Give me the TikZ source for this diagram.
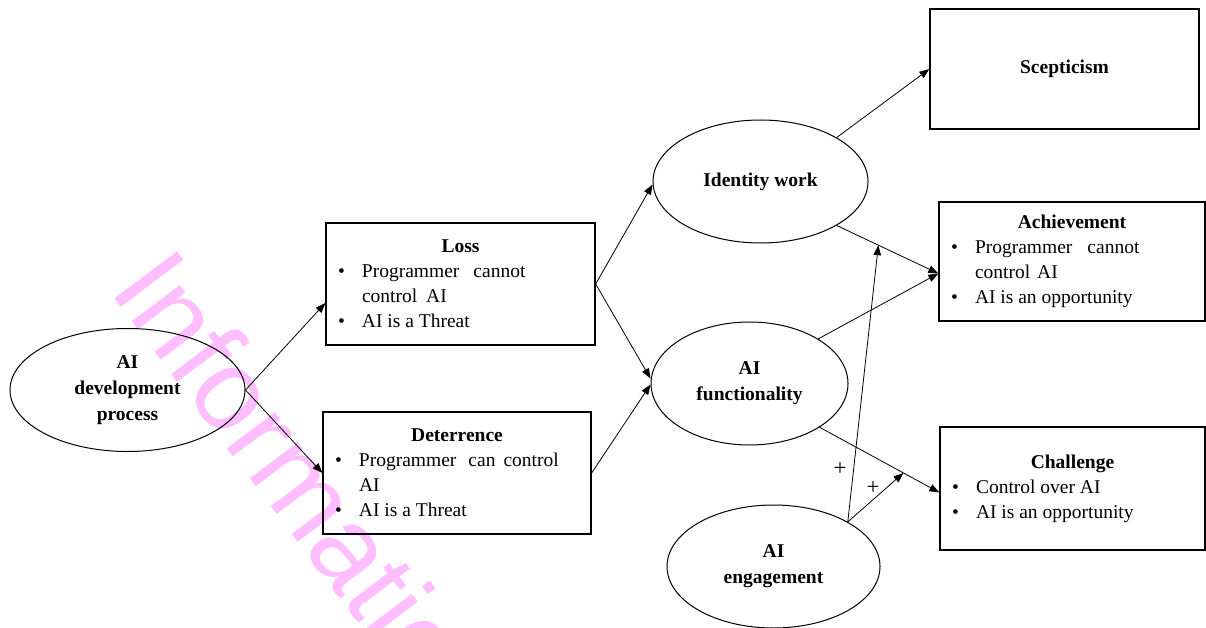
\documentclass[tikz,border=0pt]{standalone}
\usepackage{fontspec}
\setmainfont{Liberation Serif}
\setsansfont{Liberation Sans}
\usetikzlibrary{arrows.meta,shapes.geometric,calc}
\definecolor{wmpink}{RGB}{255,190,255}
\newcommand{\boxtitle}[1]{\makebox[\linewidth][c]{\bfseries #1}}
\newcommand{\bitem}{\hspace*{12pt}\makebox[24pt][l]{\textbullet}}
\newcommand{\bcont}{\hspace*{36pt}}
\begin{document}
\begin{tikzpicture}[x=1pt,y=-1pt,
  every node/.style={font=\fontsize{19.5}{25}\selectfont},
  oval/.style={ellipse, draw, line width=1pt, inner sep=0pt, align=center,
    font=\fontsize{19.5}{26}\selectfont\bfseries},
  rbox/.style={draw, line width=1.3pt, inner sep=0pt},
  conn/.style={draw, line width=0.8pt, -{Triangle[length=10pt,width=7.5pt]}},
  wmark/.style={text=wmpink, inner sep=0pt, anchor=base west, rotate=-53,
    font=\sffamily\fontsize{114}{114}\selectfont},
  plus/.style={inner sep=0pt, font=\fontsize{23}{23}\selectfont},
]
\useasboundingbox (0,0) rectangle (1206,628);

% watermark
\node[wmark] (wm) at (108,290) {Information};

% ellipses
\node[oval, minimum width=235pt, minimum height=123pt] (dev) at (127.5,390) {AI\\development\\process};
\node[oval, minimum width=215pt, minimum height=123pt] (idw) at (760.5,181.5) {Identity work};
\node[oval, minimum width=197pt, minimum height=123pt] (func) at (749.5,383.5) {AI\\functionality};
\node[oval, minimum width=213pt, minimum height=123pt] (eng) at (773.5,566.5) {AI\\engagement};

% boxes
\node[rbox, minimum width=269pt, minimum height=122pt] (loss) at (460.5,284)
  {\parbox{269pt}{\boxtitle{Loss}\\\bitem Programmer\hspace{14pt}cannot\\\bcont control\hspace{9pt}AI\\\bitem AI is a Threat}};
\node[rbox, minimum width=268pt, minimum height=122pt] (det) at (457,473)
  {\parbox{268pt}{\boxtitle{Deterrence}\\\bitem Programmer\hspace{12pt}can\hspace{8pt}control\\\bcont AI\\\bitem AI is a Threat}};
\node[rbox, minimum width=269pt, minimum height=120pt] (scep) at (1064.5,69)
  {\bfseries\raisebox{-2pt}{Scepticism}};
\node[rbox, minimum width=266pt, minimum height=119pt] (ach) at (1072,261.5)
  {\parbox{266pt}{\boxtitle{Achievement}\\\bitem Programmer\hspace{15pt}cannot\\\bcont control\hspace{7pt}AI\\\bitem AI is an opportunity}};
\node[rbox, minimum width=265pt, minimum height=123pt] (chal) at (1072.5,488.5)
  {\parbox{265pt}{\boxtitle{Challenge}\\\bitem Control over AI\\\bitem AI is an opportunity}};

% connectors
\draw[conn] (dev.east) -- ([yshift=-19pt]loss.west);
\draw[conn] (dev.east) -- (det.west);
\draw[conn] (loss.east) -- ([yshift=-3pt]idw.west);
\draw[conn] (loss.east) -- ([yshift=5pt]func.west);
\draw[conn] (det.east) -- ([yshift=-1pt]func.west);
\draw[conn] (idw.30) -- (scep.west);
\draw[conn] (idw.-30) -- ([yshift=-12pt]ach.west);
\draw[conn] (func.33) -- ([yshift=-12pt]ach.west);
\draw[conn] (func.-32) -- ([yshift=-4pt]chal.west);

\coordinate (m1) at ($(idw.-30)!0.41!([yshift=-12pt]ach.west)$);
\coordinate (m2) at ($(func.-32)!0.70!([yshift=-4pt]chal.west)$);
\draw[conn] (eng.31) -- (m1);
\draw[conn] (eng.31) -- (m2);

\node[plus] (plus1) at (840,469) {+};
\node[plus] (plus2) at (873,488) {+};
\end{tikzpicture}
\end{document}
